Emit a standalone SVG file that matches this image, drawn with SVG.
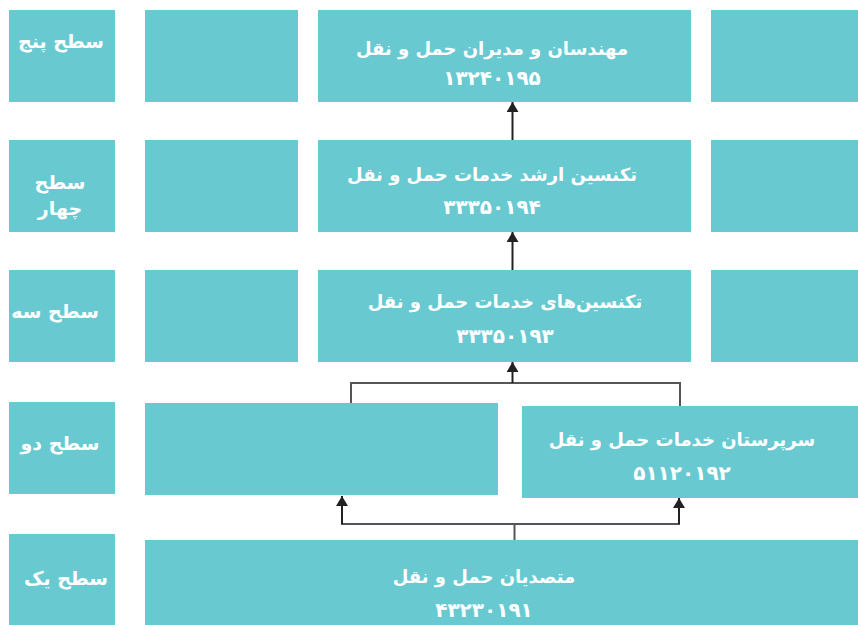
<svg xmlns="http://www.w3.org/2000/svg" width="858" height="625" viewBox="0 0 858 625">
<defs>
<style>
.box{fill:#69C9D1}
.t{fill:#fff;font-family:"DejaVu Sans",sans-serif;font-weight:bold;font-size:18px;text-anchor:middle;direction:rtl}
.lbl{font-size:19px}
.num{font-size:20px}
.conn{stroke:#555;stroke-width:2;fill:none}
.arr{stroke:#222;stroke-width:2;fill:none}
</style>
<marker id="ah" viewBox="0 0 10 12" refX="10" refY="6" markerWidth="10" markerHeight="12" markerUnits="userSpaceOnUse" orient="auto">
<path d="M0,0 L10,6 L0,12 Z" fill="#222"/>
</marker>
</defs>
<rect width="858" height="625" fill="#fff"/>

<g id="label5"><rect class="box" x="9" y="10" width="106" height="92"/><text class="t lbl" x="61" y="48">سطح پنج</text></g>
<g id="label4"><rect class="box" x="9" y="140" width="106" height="92"/><text class="t lbl" x="60" y="189">سطح</text><text class="t lbl" x="60" y="215">چهار</text></g>
<g id="label3"><rect class="box" x="9" y="270" width="106" height="92"/><text class="t lbl" x="55" y="318">سطح سه</text></g>
<g id="label2"><rect class="box" x="9" y="402" width="106" height="92"/><text class="t lbl" x="60" y="450">سطح دو</text></g>
<g id="label1"><rect class="box" x="9" y="534" width="106" height="91"/><text class="t lbl" x="66" y="585">سطح یک</text></g>

<g id="empty5"><rect class="box" x="145" y="10" width="153" height="92"/></g>
<g id="empty4"><rect class="box" x="145" y="140" width="153" height="92"/></g>
<g id="empty3"><rect class="box" x="145" y="270" width="153" height="92"/></g>
<g id="empty2"><rect class="box" x="145" y="403" width="353" height="92"/></g>

<g id="node5"><rect class="box" x="318" y="10" width="373" height="92"/><text class="t" x="492" y="55">مهندسان و مدیران حمل و نقل</text><text class="t num" x="492" y="85">۱۳۲۴۰۱۹۵</text></g>
<g id="node4"><rect class="box" x="318" y="140" width="373" height="92"/><text class="t" x="492" y="181">تکنسین ارشد خدمات حمل و نقل</text><text class="t num" x="492" y="214">۳۳۳۵۰۱۹۴</text></g>
<g id="node3"><rect class="box" x="318" y="270" width="373" height="92"/><text class="t" x="505" y="308">تکنسین‌های خدمات حمل و نقل</text><text class="t num" x="505" y="343">۳۳۳۵۰۱۹۳</text></g>
<g id="node2"><rect class="box" x="522" y="406" width="336" height="92"/><text class="t" x="682" y="446">سرپرستان خدمات حمل و نقل</text><text class="t num" x="682" y="480">۵۱۱۲۰۱۹۲</text></g>
<g id="node1"><rect class="box" x="145" y="540" width="713" height="85"/><text class="t" x="484" y="583">متصدیان حمل و نقل</text><text class="t num" x="484" y="617">۴۳۲۳۰۱۹۱</text></g>

<g id="empty5r"><rect class="box" x="711" y="10" width="147" height="92"/></g>
<g id="empty4r"><rect class="box" x="711" y="140" width="147" height="92"/></g>
<g id="empty3r"><rect class="box" x="711" y="270" width="147" height="92"/></g>

<g id="connectors">
<line class="arr" x1="512.5" y1="140" x2="512.5" y2="102" marker-end="url(#ah)"/>
<line class="arr" x1="512.5" y1="270" x2="512.5" y2="232" marker-end="url(#ah)"/>
<polyline class="conn" points="351,403 351,383 680,383 680,406"/>
<line class="arr" x1="512.5" y1="383" x2="512.5" y2="362" marker-end="url(#ah)"/>
<line class="conn" x1="514.5" y1="540" x2="514.5" y2="524"/>
<polyline class="conn" points="342,505 342,524 679,524 679,505"/>
<line class="arr" x1="342" y1="524" x2="342" y2="496" marker-end="url(#ah)"/>
<line class="arr" x1="679" y1="524" x2="679" y2="498" marker-end="url(#ah)"/>
</g>
</svg>
